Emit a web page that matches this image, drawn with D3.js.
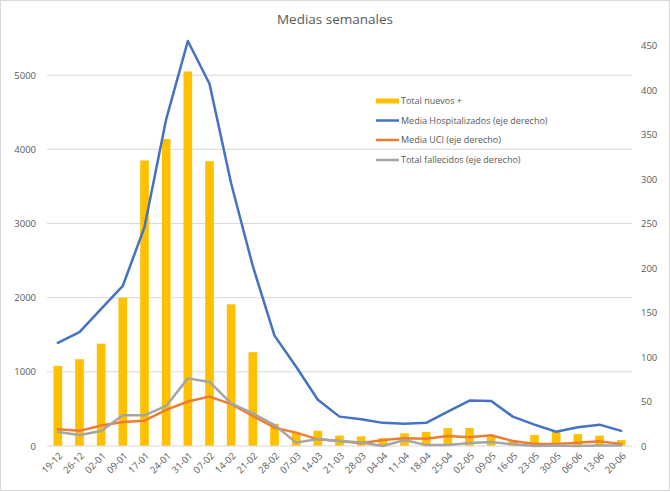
<!DOCTYPE html>
<html><head><meta charset="utf-8">
<script src="https://cdn.jsdelivr.net/npm/d3@7"></script>
<style>
html,body{margin:0;padding:0;background:#fff;}
text{font-family:"Open Sans",sans-serif;fill:#595959;}
</style></head>
<body>
<svg id="chart" width="670" height="492"></svg>
<script>
const categories = ["19-12","26-12","02-01","09-01","17-01","24-01","31-01","07-02","14-02","21-02","28-02","07-03","14-03","21-03","28-03","04-04","11-04","18-04","25-04","02-05","09-05","16-05","23-05","30-05","06-06","13-06","20-06"];
const totalNuevos = [1080,1170,1380,2000,3850,4140,5050,3840,1910,1265,300,180,205,140,130,105,170,190,242,242,125,80,148,190,160,140,80];
const mediaHosp = [116,128,154,180,246,367,455,407,295,202,124,89,52,33,30,26,25,26,38.5,51,50.5,33,24,16,21,24,17];
const mediaUCI = [18.7,17,23,27,28.5,40.5,50,55.5,47,33.7,20.6,15,7.5,5.6,3,6.7,8.6,8.2,11.2,9.7,12,5.6,2.2,2.2,3.7,5.2,2.2];
const totalFallecidos = [15.7,12.4,16.9,34.5,34.5,45,76,72,48,36.7,23.6,3.8,7.9,5.6,4,0,6.7,1,1,3.4,4.5,1.9,0,0.7,0,0.7,0.7];
const leftTicks = [0,1000,2000,3000,4000,5000];
const rightTicks = [0,50,100,150,200,250,300,350,400,450];
const seriesNames = ["Total nuevos +","Media Hospitalizados (eje derecho)","Media UCI (eje derecho)","Total fallecidos (eje derecho)"];
const colors = ["#FFC000","#4472C4","#ED7D31","#A5A5A5"];

const svg = d3.select("#chart");
svg.append("rect").attr("x",0.5).attr("y",0.5).attr("width",669).attr("height",490)
  .attr("fill","#fff").attr("stroke","#D9D9D9");

const x0 = 47, x1 = 632, yB = 446, yT = 45.5;
const x = d3.scaleBand().domain(categories).range([x0,x1]).paddingInner(0.6).paddingOuter(0.3);
const yL = d3.scaleLinear().domain([0,5400]).range([yB,yT]);
const yR = d3.scaleLinear().domain([0,450]).range([yB,yT]);

// gridlines
svg.append("g").selectAll("line").data(leftTicks.slice(1)).join("line")
  .attr("x1",x0).attr("x2",x1).attr("y1",d=>yL(d)).attr("y2",d=>yL(d))
  .attr("stroke","#D9D9D9").attr("stroke-width",1);

// left axis
const axL = svg.append("g").attr("transform",`translate(${x0},0)`)
  .call(d3.axisLeft(yL).tickValues(leftTicks).tickFormat(d3.format("d")).tickSize(0).tickPadding(11));
axL.select(".domain").remove();
axL.selectAll("text").style("font-size","9.5px").attr("fill","#595959");

// right axis
const axR = svg.append("g").attr("transform",`translate(${x1},0)`)
  .call(d3.axisRight(yR).tickValues(rightTicks).tickFormat(d3.format("d")).tickSize(0).tickPadding(9));
axR.select(".domain").remove();
axR.selectAll("text").style("font-size","9.5px").attr("fill","#595959");

// bars
svg.append("g").selectAll("rect").data(totalNuevos).join("rect")
  .attr("x",(d,i)=>x(categories[i])).attr("width",x.bandwidth())
  .attr("y",d=>yL(d)).attr("height",d=>yB-yL(d)).attr("fill",colors[0]);

// baseline
svg.append("line").attr("x1",x0).attr("x2",x1).attr("y1",yB).attr("y2",yB)
  .attr("stroke","#D9D9D9").attr("stroke-width",1);

// x labels
const cx = c => x(c)+x.bandwidth()/2;
svg.append("g").selectAll("text").data(categories).join("text")
  .attr("transform",d=>`translate(${cx(d)+3},${yB+8}) rotate(-45)`)
  .attr("text-anchor","end").attr("dy","0.35em")
  .style("font-size","9.5px").text(d=>d);

// lines
const line = d3.line().x((d,i)=>cx(categories[i])).y(d=>yR(d));
[[mediaHosp,colors[1]],[mediaUCI,colors[2]],[totalFallecidos,colors[3]]].forEach(([data,c])=>{
  svg.append("path").datum(data).attr("d",line).attr("fill","none")
    .attr("stroke",c).attr("stroke-width",2.5).attr("stroke-linejoin","round").attr("stroke-linecap","round");
});

// title
svg.append("text").attr("x",335).attr("y",24).attr("text-anchor","middle")
  .style("font-size","13.5px").text("Medias semanales");

// legend
const lg = svg.append("g");
const rowsY = [101,120.5,140,160];
seriesNames.forEach((n,i)=>{
  if(i===0){
    lg.append("rect").attr("x",376).attr("y",rowsY[i]-2.5).attr("width",23).attr("height",5).attr("fill",colors[0]);
  } else {
    lg.append("line").attr("x1",376).attr("x2",399).attr("y1",rowsY[i]).attr("y2",rowsY[i])
      .attr("stroke",colors[i]).attr("stroke-width",2.5);
  }
  lg.append("text").attr("x",401).attr("y",rowsY[i]).attr("dy","0.35em")
    .style("font-size","9px").text(n);
});
</script>
</body></html>
